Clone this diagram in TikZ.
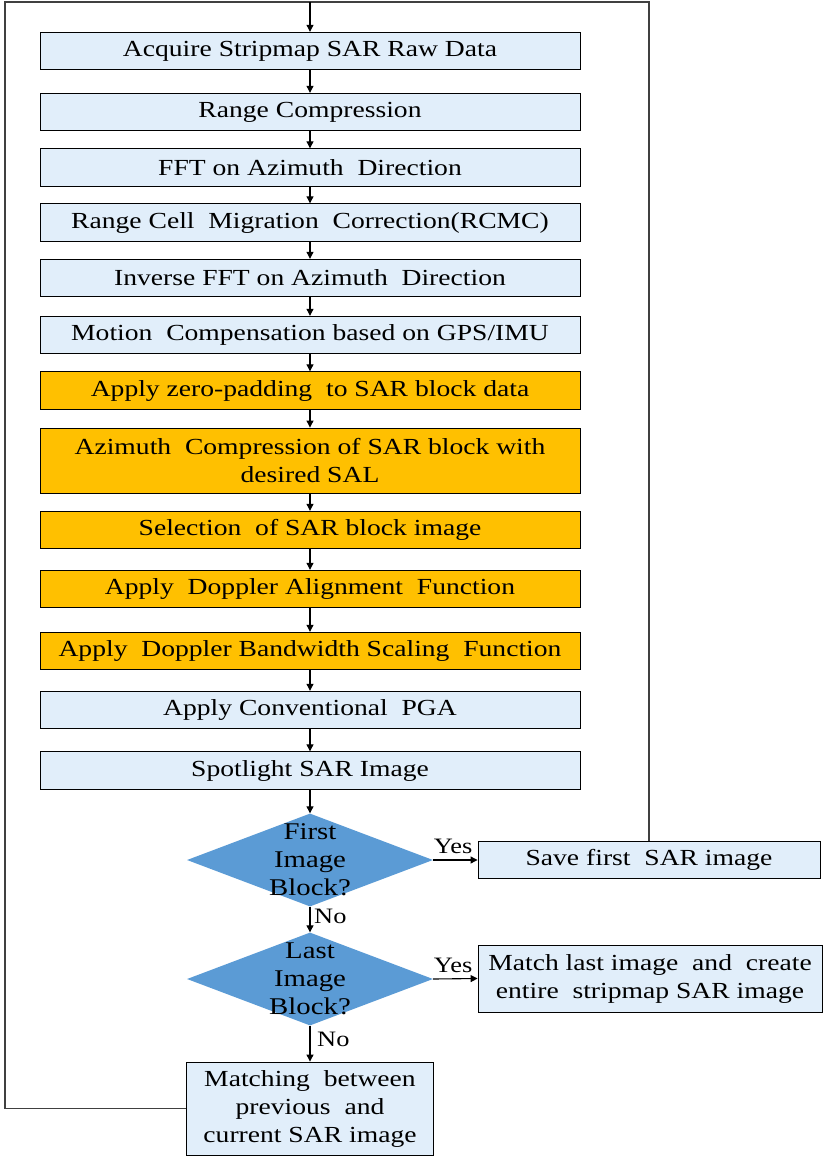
\documentclass[tikz,border=0pt]{standalone}
\usepackage{fontspec}
\setmainfont{Liberation Serif}[FakeStretch=1.2]
\usetikzlibrary{shapes.geometric,arrows.meta}
\definecolor{stepblue}{HTML}{E1EEFA}
\definecolor{steporange}{HTML}{FFC000}
\definecolor{decblue}{HTML}{5B9BD5}
\tikzset{
stage/.style={
  draw, line width=0.9pt,
  fill=stepblue,
  minimum width=540pt,
  minimum height=37.5pt,
  inner sep=2pt,
  align=center,
  font=\fontsize{23}{28}\selectfont
},
blockstage/.style={stage, fill=steporange},
decision/.style={diamond, fill=decblue, inner sep=0pt,
  minimum width=246pt, minimum height=93pt},
dectext/.style={align=center, font=\fontsize{24}{28}\selectfont},
flow/.style={line width=1.1pt, -{Triangle[length=7pt,width=7pt]}},
looped/.style={line width=1.1pt, draw=black!75},
answer/.style={font=\fontsize{22}{24}\selectfont, inner sep=1pt}
}
\begin{document}
\begin{tikzpicture}[x=1pt,y=-1pt]
\useasboundingbox (0,0) rectangle (827,1160);
% main chain
\node[stage] (acq) at (310,51) {Acquire Stripmap SAR Raw Data};
\node[stage] (rcomp) at (310,112) {Range Compression};
\node[stage] (fft) at (310,167.5) {FFT on Azimuth\ \ Direction};
\node[stage] (rcmc) at (310,222.5) {Range Cell\ \ Migration\ \ Correction(RCMC)};
\node[stage] (ifft) at (310,278) {Inverse FFT on Azimuth\ \ Direction};
\node[stage] (moco) at (310,335) {Motion\ \ Compensation based on GPS/IMU};
\node[blockstage] (zpad) at (310,390.5) {Apply zero-padding\ \ to SAR block data};
\node[blockstage, minimum height=65pt] (azc) at (310,460.5) {Azimuth\ \ Compression of SAR block with\\desired SAL};
\node[blockstage] (sel) at (310,530) {Selection\ \ of SAR block image};
\node[blockstage] (dalign) at (310,589) {Apply\ \ Doppler Alignment\ \ Function};
\node[blockstage] (dscale) at (310,651) {Apply\ \ Doppler Bandwidth Scaling\ \ Function};
\node[stage] (pga) at (310,710) {Apply Conventional\ \ PGA};
\node[stage] (spot) at (310,770.5) {Spotlight SAR Image};
% decisions
\node[decision, label={[dectext]center:First\\Image\\Block?}] (first) at (310,860) {};
\node[stage, minimum width=342pt] (save) at (649,860) {Save first\ \ SAR image};
\node[decision, label={[dectext]center:Last\\Image\\Block?}] (last) at (310,979) {};
\node[stage, minimum width=344pt, minimum height=67pt] (final) at (650,978.5) {Match last image\ \ and\ \ create\\entire\ \ stripmap SAR image};
\node[stage, minimum width=247pt, minimum height=93pt] (matching) at (310,1108.5) {Matching\ \ between\\previous\ \ and\\current SAR image};
% connectors
\foreach \a/\b in {acq/rcomp,rcomp/fft,fft/rcmc,rcmc/ifft,ifft/moco,moco/zpad,zpad/azc,azc/sel,sel/dalign,dalign/dscale,dscale/pga,pga/spot,spot/first,first/last,last/matching}
{
  \draw[flow] (\a.south) -- (\b.north);
}
\draw[flow] (first.east) -- (save.west) node[answer, pos=0.45, above=5pt] {Yes};
\draw[flow] (last.east) -- (final.west) node[answer, pos=0.45, above=5pt] {Yes};
\node[answer, anchor=west] (nofirst) at (313,916) {No};
\node[answer, anchor=west] (nolast) at (316,1039) {No};
% loop back
\coordinate (tl) at (5,2);
\draw[looped] (matching.west) -| (tl) -| (save.north);
\coordinate (entry) at (acq.north |- tl);
\draw[flow] (entry) -- (acq.north);
\end{tikzpicture}
\end{document}
